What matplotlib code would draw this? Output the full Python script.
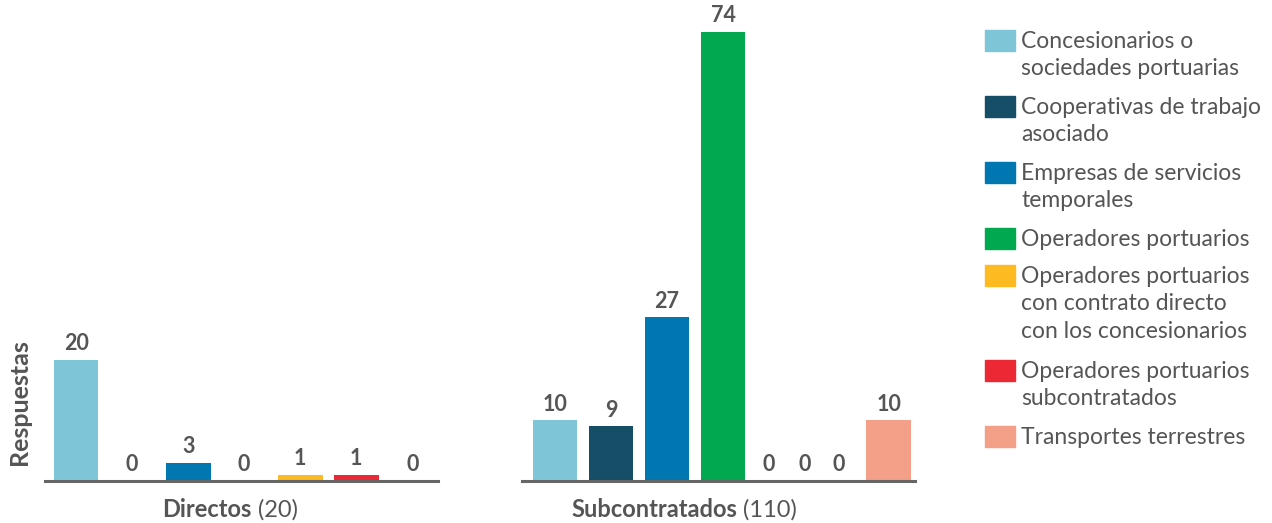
import matplotlib
matplotlib.use("Agg")
import matplotlib.pyplot as plt
from matplotlib.patches import Rectangle
from matplotlib.transforms import offset_copy

plt.rcParams['font.family'] = ['Lato', 'DejaVu Sans']

# ----------------------------
# DATOS
# ----------------------------
categorias = [
    "Concesionarios o\nsociedades portuarias",
    "Cooperativas de trabajo\nasociado",
    "Empresas de servicios\ntemporales",
    "Operadores portuarios",
    "Operadores portuarios\ncon contrato directo\ncon los concesionarios",
    "Operadores portuarios\nsubcontratados",
    "Transportes terrestres",
]
colores = ["#7fc5d8", "#154e66", "#0077b0", "#00a84f",
           "#fdbb21", "#ec2834", "#f49f87"]

grupos = ["Directos", "Subcontratados"]
totales = [20, 110]
directos = [20, 0, 3, 0, 1, 1, 0]
subcontratados = [10, 9, 27, 74, 0, 0, 0, 10]

# colores por barra en cada grupo (subcontratados trae una columna sin leyenda)
colores_dir = colores
colores_sub = colores[:6] + ["#999999", colores[6]]

# posiciones de las barras
pos_dir = [0, 1, 2, 3, 4, 5, 6]
pos_sub = [0, 1, 2, 3, 3.82, 4.46, 5.07, 5.96]

GRIS = "#555555"

# ----------------------------
# FIGURA
# ----------------------------
fig = plt.figure(figsize=(12.72, 5.23), dpi=100)
ax1 = fig.add_axes([0.0354, 0.0803, 0.309, 0.905])
ax2 = fig.add_axes([0.4104, 0.0803, 0.309, 0.905])

paneles = [
    (ax1, pos_dir, directos, colores_dir, (-0.554, 6.46), 0.471),
    (ax2, pos_sub, subcontratados, colores_sub, (-0.589, 6.43), 0.412),
]

for (ax, xs, valores, cols, lim, centro), grupo, total in zip(paneles, grupos, totales):
    ax.bar(xs, valores, width=0.8, color=cols)
    for x, v in zip(xs, valores):
        ax.annotate(str(v), (x, v), xytext=(0, 4), textcoords="offset points",
                    ha="center", va="bottom", fontsize=15.5, fontweight="bold",
                    color=GRIS)
    ax.set_xlim(*lim)
    ax.set_ylim(0, 78)
    for s in ["top", "right", "left"]:
        ax.spines[s].set_visible(False)
    ax.spines["bottom"].set_color("#666666")
    ax.spines["bottom"].set_linewidth(2.2)
    ax.set_xticks([])
    ax.set_yticks([])
    ax.patch.set_alpha(0)

    # etiqueta del grupo: nombre en negrita y total en normal
    t1 = ax.text(centro, -0.035, grupo, transform=ax.transAxes, ha="left",
                 va="top", fontsize=17, fontweight="bold", color=GRIS)
    t2 = ax.annotate(f" ({total})", xy=(1, 0), xycoords=t1, ha="left",
                     va="bottom", fontsize=17, color=GRIS)
    fig.canvas.draw()
    r = fig.canvas.get_renderer()
    ancho = t1.get_window_extent(r).width + t2.get_window_extent(r).width
    t1.set_transform(offset_copy(ax.transAxes, fig=fig, x=-ancho / 2,
                                 units="dots"))

ax1.text(-0.064, 0.034, "Respuestas", transform=ax1.transAxes, rotation=90,
         ha="center", va="bottom", fontsize=18, fontweight="bold", color=GRIS)

# ----------------------------
# LEYENDA
# ----------------------------
y = 1 - 30 / 523
linea = 29 / 523
for cat, col in zip(categorias, colores):
    n = cat.count("\n") + 1
    fig.patches.append(Rectangle((985 / 1272, y - 21 / 523), 30 / 1272, 21 / 523,
                                 transform=fig.transFigure, color=col))
    fig.text(1021 / 1272, y - 1 / 523, cat, ha="left", va="top", fontsize=16.5,
             color=GRIS, linespacing=1.38)
    y -= (n * linea + 8 / 523)

fig.savefig("out.png", dpi=100)
